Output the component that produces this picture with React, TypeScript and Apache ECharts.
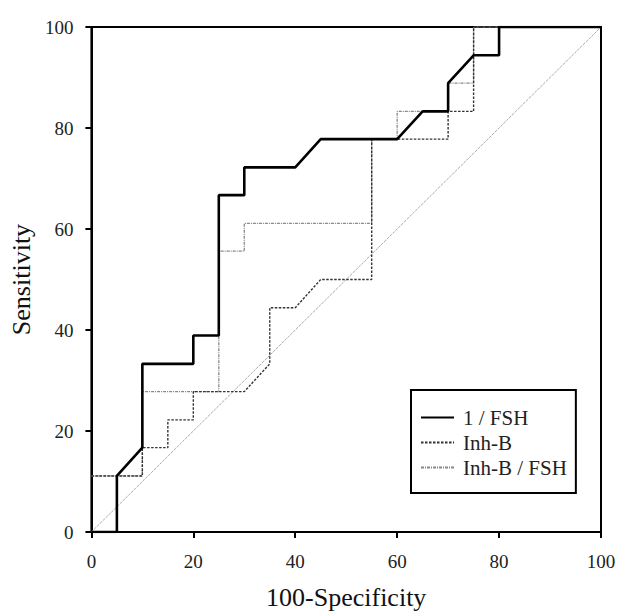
import React, { useEffect, useRef } from "react";
import * as echarts from "echarts";

const seriesNames = ["1 / FSH", "Inh-B", "Inh-B / FSH"];
const xTicks = [0, 20, 40, 60, 80, 100];

// 100-Specificity, Sensitivity
const fshPoints: [number, number][] = [
  [0, 0], [5, 0], [5, 11.1], [10, 16.7], [10, 33.3], [20, 33.3], [20, 38.9],
  [25, 38.9], [25, 66.7], [30, 66.7], [30, 72.2], [40, 72.2], [45, 77.8],
  [60, 77.8], [65, 83.3], [70, 83.3], [70, 88.9], [75, 94.4], [80, 94.4],
  [80, 100], [100, 100],
];
const inhbPoints: [number, number][] = [
  [0, 11.1], [10, 11.1], [10, 16.7], [15, 16.7], [15, 22.2], [20, 22.2],
  [20, 27.8], [30, 27.8], [35, 33.3], [35, 44.4], [40, 44.4], [45, 50],
  [55, 50], [55, 77.8], [70, 77.8], [70, 83.3], [75, 83.3], [75, 100],
  [100, 100],
];
const ratioPoints: [number, number][] = [
  [0, 11.1], [10, 11.1], [10, 27.8], [25, 27.8], [25, 55.6], [30, 55.6],
  [30, 61.1], [55, 61.1], [55, 77.8], [60, 77.8], [60, 83.3], [70, 83.3],
  [70, 88.9], [75, 88.9], [75, 100], [100, 100],
];
const refLine: [number, number][] = [[0, 0], [100, 100]];

const FONT = "'Liberation Serif', 'DejaVu Serif', serif";

export default function App() {
  const ref = useRef<HTMLDivElement>(null);
  useEffect(() => {
    if (!ref.current) return;
    const chart = echarts.init(ref.current, undefined, { renderer: "svg" });
    const axisCommon = {
      type: "value" as const,
      min: 0,
      max: 100,
      interval: 20,
      splitLine: { show: false },
      axisLine: { show: true, lineStyle: { color: "#000", width: 2 } },
      axisTick: { show: true, inside: false, length: 6, lineStyle: { color: "#000", width: 2 } },
      axisLabel: { color: "#222", fontSize: 19, fontFamily: FONT },
      nameLocation: "middle" as const,
      nameTextStyle: { color: "#111", fontSize: 26, fontFamily: FONT },
    };
    chart.setOption({
      animation: false,
      backgroundColor: "#fff",
      grid: {
        left: 91, top: 27, right: 20, bottom: 78,
        show: true, borderColor: "#000", borderWidth: 2, backgroundColor: "transparent",
      },
      xAxis: {
        ...axisCommon,
        name: "100-Specificity",
        nameGap: 52,
        axisLabel: { ...axisCommon.axisLabel, margin: 20, formatter: (v: number) => (xTicks.includes(v) ? String(v) : "") },
      },
      yAxis: {
        ...axisCommon,
        name: "Sensitivity",
        nameGap: 52,
        axisLabel: { ...axisCommon.axisLabel, margin: 18 },
      },
      legend: {
        data: seriesNames,
        orient: "vertical",
        left: 411,
        top: 390,
        padding: [17, 9, 15, 9],
        itemGap: 4,
        itemWidth: 33,
        itemHeight: 10,
        borderColor: "#000",
        borderWidth: 2,
        backgroundColor: "#fff",
        itemStyle: { opacity: 0 },
        textStyle: { fontSize: 21, fontFamily: FONT, color: "#222", lineHeight: 20, padding: [0, 0, 0, 4] },
      },
      series: [
        {
          type: "line", name: "ref", data: refLine, symbol: "none", silent: true,
          lineStyle: { color: "#aaa", width: 1, type: [3, 1] },
        },
        {
          type: "line", name: seriesNames[2], data: ratioPoints, symbol: "none",
          lineStyle: { color: "#888", width: 1.3, type: [3, 1, 1, 1] },
          itemStyle: { color: "#888" },
        },
        {
          type: "line", name: seriesNames[1], data: inhbPoints, symbol: "none",
          lineStyle: { color: "#333", width: 1.4, type: [2.5, 1.5] },
          itemStyle: { color: "#333" },
        },
        {
          type: "line", name: seriesNames[0], data: fshPoints, symbol: "none",
          lineStyle: { color: "#000", width: 2.6 },
          itemStyle: { color: "#000" },
        },
      ],
    });
    return () => chart.dispose();
  }, []);
  return (
    <div
      ref={ref}
      style={{ position: "fixed", left: 0, top: 0, width: 621, height: 615 }}
    />
  );
}
